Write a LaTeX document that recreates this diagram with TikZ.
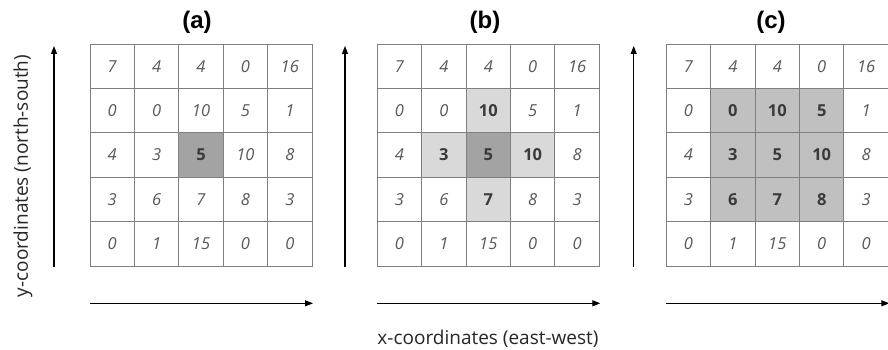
\documentclass[tikz,border=0pt]{standalone}
\usepackage{fontspec}
\setmainfont{Open Sans}
\newfontfamily\titlefont{Liberation Sans}
\usetikzlibrary{arrows.meta}
\definecolor{gridline}{HTML}{7F7F7F}
\definecolor{numgray}{HTML}{595959}
\definecolor{boldgray}{HTML}{3A3A3A}
\definecolor{darkcell}{HTML}{A3A3A3}
\definecolor{lightcell}{HTML}{D9D9D9}
\definecolor{midcell}{HTML}{C0C0C0}
\definecolor{labelgray}{HTML}{262626}
\begin{document}
\begin{tikzpicture}[x=1pt,y=-1pt,
  cell/.style={draw=gridline, line width=0.9pt, fill=white, minimum width=44.4pt, minimum height=44.4pt, inner sep=0pt, font=\fontsize{16.5}{16.5}\selectfont\itshape, text=numgray},
  hl/.style={font=\fontsize{16.5}{16.5}\selectfont\bfseries, text=boldgray},
  dk/.style={fill=darkcell, hl},
  lt/.style={fill=lightcell, hl},
  md/.style={fill=midcell, hl},
  a-3-3/.style={dk},
  b-3-3/.style={dk}, b-2-3/.style={lt}, b-3-2/.style={lt}, b-3-4/.style={lt}, b-4-3/.style={lt},
  c-2-2/.style={md}, c-2-3/.style={md}, c-2-4/.style={md},
  c-3-2/.style={md}, c-3-3/.style={md}, c-3-4/.style={md},
  c-4-2/.style={md}, c-4-3/.style={md}, c-4-4/.style={md},
  paneltitle/.style={font=\titlefont\bfseries\fontsize{24}{24}\selectfont, text=black, inner sep=0pt},
  axislabel/.style={font=\fontsize{19}{19}\selectfont, text=labelgray, inner sep=0pt},
  axisarrow/.style={line width=1.1pt, -{Triangle[length=8pt, width=6pt]}}
]
\useasboundingbox (0,0) rectangle (888,350);
\fill[white] (0,0) rectangle (888,350);

\foreach \p/\xo/\ax/\tx in {a/90/54/197, b/377.3/345/485, c/666.3/633.7/771} {
  \foreach \v [count=\k from 0] in {7,4,4,0,16,0,0,10,5,1,4,3,5,10,8,3,6,7,8,3,0,1,15,0,0} {
    \pgfmathtruncatemacro\r{div(\k,5)+1}
    \pgfmathtruncatemacro\c{mod(\k,5)+1}
    \node[cell, \p-\r-\c/.try] (\p-\r-\c) at (\xo+22.2+44.4*\c-44.4, 44+22.2+44.4*\r-44.4) {\v};
  }
  \node[paneltitle] (title-\p) at (\tx,22) {(\p)};
  \coordinate (y0-\p) at (\ax,267);
  \coordinate (y1-\p) at (\ax,46);
  \draw[axisarrow] (y0-\p) -- (y1-\p);
  \coordinate (x0-\p) at (\xo,303.3);
  \coordinate (x1-\p) at (\xo+223,303.3);
  \draw[axisarrow] (x0-\p) -- (x1-\p);
}

\node[axislabel, rotate=90] (ylab) at (23,176) {y-coordinates (north-south)};
\node[axislabel] (xlab) at (488,339) {x-coordinates (east-west)};
\end{tikzpicture}
\end{document}
